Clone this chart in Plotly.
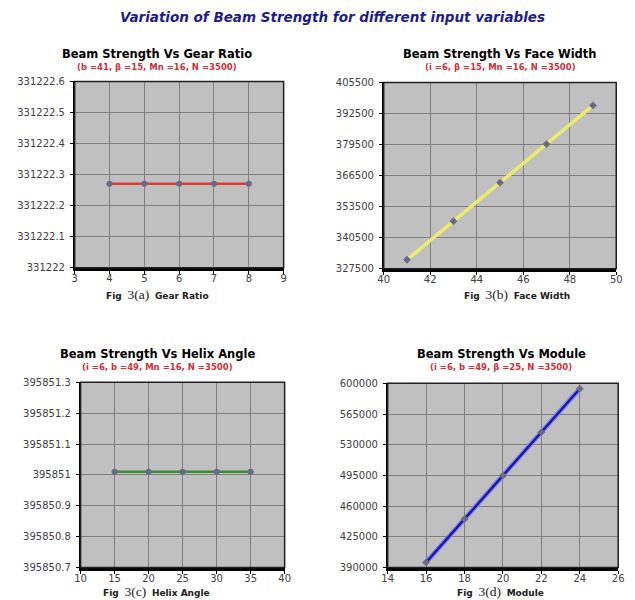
import plotly.graph_objects as go

W, H = 635, 600

# ---- data ----
gear_ratio = [4, 5, 6, 7, 8]
bs_gear = [331222.27, 331222.27, 331222.27, 331222.27, 331222.27]

face_width = [41, 43, 45, 47, 49]
bs_face = [331222.3, 347379.7, 363536.9, 379694.1, 395851.0]

helix_angle = [15, 20, 25, 30, 35]
bs_helix = [395851.01, 395851.01, 395851.01, 395851.01, 395851.01]

module = [16, 18, 20, 22, 24]
bs_module = [395851, 445300, 494800, 544300, 593800]

yt_a = [331222.0, 331222.1, 331222.2, 331222.3, 331222.4, 331222.5, 331222.6]
yl_a = ["331222", "331222.1", "331222.2", "331222.3", "331222.4", "331222.5", "331222.6"]
yt_b = [327500, 340500, 353500, 366500, 379500, 392500, 405500]
yt_c = [395850.7, 395850.8, 395850.9, 395851.0, 395851.1, 395851.2, 395851.3]
yl_c = ["395850.7", "395850.8", "395850.9", "395851", "395851.1", "395851.2", "395851.3"]
yt_d = [390000, 425000, 460000, 495000, 530000, 565000, 600000]

titles = ["Beam Strength Vs Gear Ratio", "Beam Strength Vs Face Width",
          "Beam Strength Vs Helix Angle", "Beam Strength Vs Module"]
subtitles = ["(b =41, β =15, Mn =16, N =3500)", "(i =6, β =15, Mn =16, N =3500)",
             "(i =6, b =49, Mn =16, N =3500)", "(i =6, b =49, β =25, N =3500)"]
fig_ids = ["3(a)", "3(b)", "3(c)", "3(d)"]
xnames = ["Gear Ratio", "Face Width", "Helix Angle", "Module"]

# ---- layout geometry (pixels) ----
panels = [
    dict(x=(70, 283), y=(77, 267), xr=[3, 9], xd=1, yr=[331222, 331222.6], yt=yt_a, yl=yl_a,
         tx=154, lx=154, ty=49, sy=62, ly=294, line="#e03a3a", sym="circle", xs=gear_ratio, ys=bs_gear, lw=2.5),
    dict(x=(385, 622), y=(78, 268), xr=[40, 50], xd=2, yr=[327500, 405500], yt=yt_b, yl=[str(v) for v in yt_b],
         tx=504, lx=521, ty=49, sy=62, ly=294, line="#ecec6a", sym="diamond", xs=face_width, ys=bs_face, lw=3.5),
    dict(x=(76, 284), y=(384, 573), xr=[10, 40], xd=5, yr=[395850.7, 395851.3], yt=yt_c, yl=yl_c,
         tx=154, lx=153, ty=355, sy=368, ly=597, line="#3a8a3a", sym="circle", xs=helix_angle, ys=bs_helix, lw=2.5),
    dict(x=(389, 624), y=(385, 573), xr=[14, 26], xd=2, yr=[390000, 600000], yt=yt_d, yl=[str(v) for v in yt_d],
         tx=505, lx=504, ty=355, sy=368, ly=597, line="#1a1aa8", sym="diamond", xs=module, ys=bs_module, lw=2.5),
]

fig = go.Figure()
annotations = []
shapes = []
font_main = "DejaVu Sans, Liberation Sans, Arial, sans-serif"

for i, p in enumerate(panels):
    n = "" if i == 0 else str(i + 1)
    xa, ya = "xaxis" + n, "yaxis" + n
    xref, yref = "x" + n, "y" + n
    if p["line"] == "#1a1aa8":
        fig.add_trace(go.Scatter(x=p["xs"], y=p["ys"], mode="lines", xaxis=xref, yaxis=yref,
                                 line=dict(color="#8a8ae8", width=5), hoverinfo="skip", showlegend=False))
    fig.add_trace(go.Scatter(x=p["xs"], y=p["ys"], mode="lines+markers", xaxis=xref, yaxis=yref,
                             line=dict(color=p["line"], width=p["lw"]),
                             marker=dict(symbol=p["sym"], size=6, color="#6a6a86"),
                             showlegend=False))
    fig.update_layout(**{
        xa: dict(domain=[p["x"][0] / W, p["x"][1] / W], range=p["xr"], dtick=p["xd"], tick0=p["xr"][0],
                 anchor=yref, showgrid=True, gridcolor="#7f7f7f", gridwidth=1,
                 showline=True, linecolor="black", linewidth=3, ticks="outside", ticklen=3,
                 tickcolor="black", zeroline=False, ticklabelstandoff=-4,
                 tickfont=dict(family=font_main, size=10, color="#404040")),
        ya: dict(domain=[1 - p["y"][1] / H, 1 - p["y"][0] / H], range=p["yr"], tickvals=p["yt"],
                 ticktext=p["yl"], anchor=xref, showgrid=True, gridcolor="#7f7f7f", gridwidth=1,
                 showline=True, linecolor="black", linewidth=1.5, ticks="outside", ticklen=3,
                 tickcolor="black", zeroline=False, ticklabelstandoff=3,
                 tickfont=dict(family=font_main, size=10, color="#404040")),
    })
    shapes.append(dict(type="rect", xref="paper", yref="paper",
                       x0=p["x"][0] / W, x1=p["x"][1] / W, y0=1 - p["y"][1] / H, y1=1 - p["y"][0] / H,
                       line=dict(color="#202020", width=1.5), layer="above"))
    annotations.append(dict(x=p["tx"] / W, y=1 - p["ty"] / H, xref="paper", yref="paper",
                            text="<b>" + titles[i] + "</b>", showarrow=False,
                            font=dict(family=font_main, size=11.5, color="black"),
                            xanchor="center", yanchor="middle"))
    annotations.append(dict(x=p["tx"] / W, y=1 - p["sy"] / H, xref="paper", yref="paper",
                            text="<b>" + subtitles[i] + "</b>", showarrow=False,
                            font=dict(family=font_main, size=8.5, color="#d0303a"),
                            xanchor="center", yanchor="middle"))
    annotations.append(dict(x=p["lx"] / W, y=1 - p["ly"] / H, xref="paper", yref="paper",
                            text="<b>Fig</b>  <span style='font-family:Liberation Serif, Times New Roman, serif;font-size:13.5px;font-weight:normal'>"
                                 + fig_ids[i] + "</span>  <b>" + xnames[i] + "</b>",
                            showarrow=False,
                            font=dict(family=font_main, size=9, color="#202020"),
                            xanchor="center", yanchor="middle"))

annotations.append(dict(x=333 / W, y=1 - 11 / H, xref="paper", yref="paper",
                        text="<b><i>Variation of Beam Strength for different input variables</i></b>",
                        showarrow=False, font=dict(family=font_main, size=13.5, color="#1c1c8a"),
                        xanchor="center", yanchor="middle"))

fig.update_layout(width=W, height=H, margin=dict(l=0, r=0, t=0, b=0),
                  paper_bgcolor="white", plot_bgcolor="#c0c0c0",
                  annotations=annotations, shapes=shapes, showlegend=False)

fig.write_html("out.html", config={"displayModeBar": False},
               post_script="document.body.style.margin='0';document.body.style.padding='0';"
                           "document.documentElement.style.overflow='hidden';")
